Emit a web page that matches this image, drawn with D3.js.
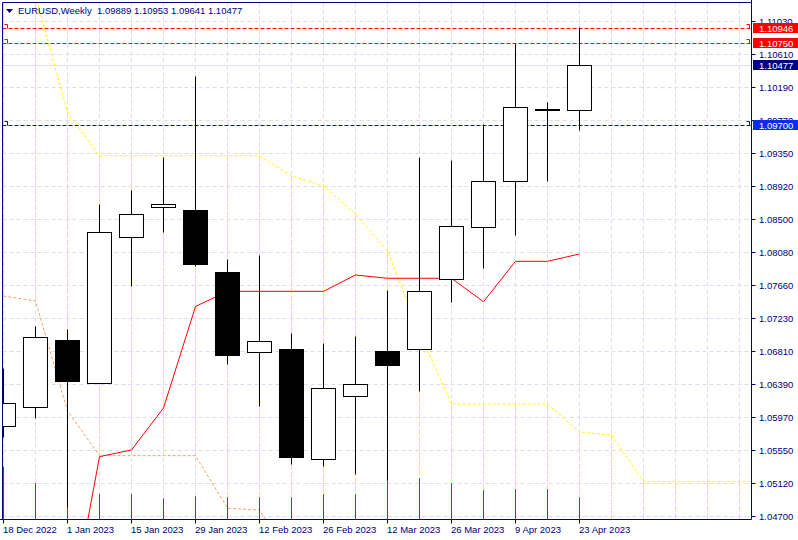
<!DOCTYPE html>
<html><head><meta charset="utf-8">
<script src="https://cdn.jsdelivr.net/npm/d3@7"></script>
<style>
html,body{margin:0;padding:0;background:#fff;overflow:hidden}
svg{display:block}
text{font-family:"Liberation Sans",Arial,sans-serif;font-size:9.5px}
</style>
</head><body>
<svg id="chart" width="798" height="540"></svg>
<script>
// ---------- DATA ----------
const weeks = ["2022-12-18","2022-12-25","2023-01-01","2023-01-08","2023-01-15","2023-01-22","2023-01-29",
  "2023-02-05","2023-02-12","2023-02-19","2023-02-26","2023-03-05","2023-03-12","2023-03-19","2023-03-26",
  "2023-04-02","2023-04-09","2023-04-16","2023-04-23"];
const openP  = [1.05852,1.06099,1.06952,1.06398,1.08270,1.08650,1.08616,1.07822,1.06795,1.06837,1.05429,1.06232,1.06811,1.06833,1.07729,1.08394,1.08983,1.09912,1.09889];
const highP  = [1.06594,1.07131,1.07093,1.08692,1.08872,1.09298,1.10330,1.07985,1.08040,1.07038,1.06910,1.07003,1.07592,1.09294,1.09255,1.09716,1.10750,1.09994,1.10953];
const lowP   = [1.05711,1.05958,1.04819,1.06398,1.07643,1.08334,1.07899,1.06645,1.06111,1.05365,1.05340,1.05237,1.05161,1.06303,1.07442,1.07877,1.08300,1.08985,1.09641];
const closeP = [1.06146,1.06987,1.06431,1.08334,1.08564,1.08692,1.07925,1.06764,1.06935,1.05455,1.06334,1.06389,1.06636,1.07575,1.08407,1.08983,1.09930,1.09889,1.10477];
const volumeK = [52,36,40,25,25,21,23,22,22,22,25,25,40,41,36,29,30,30,22];
const tenkan = [null,null,1.03250,1.05459,1.05545,1.06082,1.07381,1.07575,1.07575,1.07575,1.07575,1.07784,1.07742,1.07742,1.07742,1.07442,1.07959,1.07959,1.08053];
const spanA = [1.11550,1.11354,1.09870,1.09310,1.09310,1.09310,1.09310,1.09310,1.09310,1.09051,1.08927,1.08564,1.08091,1.07042,1.06133,1.06133,1.06133,1.06133,1.05775,1.05736,1.05139,1.05139,1.05139,1.05139,1.05139];
const spanB = [1.07515,1.07451,1.06044,1.05472,1.05472,1.05472,1.05472,1.04799,1.04777,1.04137,1.03900,1.03850,1.03850,1.03800,1.03800,1.03800,1.03750,1.03750,1.03700,1.03700,1.03700,1.03700,1.03700,1.03700,1.03700];
const yTickValues = [1.11030,1.10610,1.10190,1.09770,1.09350,1.08920,1.08500,1.08080,1.07660,1.07230,1.06810,1.06390,1.05970,1.05550,1.05120,1.04700];
const xTickLabels = ["18 Dec 2022","1 Jan 2023","15 Jan 2023","29 Jan 2023","12 Feb 2023","26 Feb 2023","12 Mar 2023","26 Mar 2023","9 Apr 2023","23 Apr 2023"];
const xTickIndex = [0,2,4,6,8,10,12,14,16,18];
const hLineValues = [1.10946,1.10750,1.09700];
const hLineColors = ["#ff0000","#ff0000","#0000dd"];
const hLineBoxColors = ["#ff0000","#ff0000","#0a2cf0"];
const bidPrice = 1.10477;
const symbolTitle = "EURUSD,Weekly";

// ---------- LAYOUT ----------
const L = 2.5, R = 751.5, T = 2.5, B = 519.5;
const navy = "#000080";
const svg = d3.select("#chart");
const x = d3.scaleLinear().domain([0, 23]).range([3.5, 739.5]);
const y = d3.scaleLinear().domain([1.04655, 1.11271]).range([B, T]);
const cy = v => Math.round(y(v)) + 0.5;
const vol = d3.scaleLinear().domain([0, 52]).range([B, 467]);

svg.append("defs").append("clipPath").attr("id","plot")
  .append("rect").attr("x", L+0.5).attr("y", T+0.5).attr("width", R-L-1).attr("height", B-T-1);
const plot = svg.append("g").attr("clip-path","url(#plot)");

// grid
const gridIdx = d3.range(0, 24);
plot.selectAll(".vg").data(gridIdx).join("line")
  .attr("x1", d=>x(d)).attr("x2", d=>x(d)).attr("y1", T).attr("y2", B)
  .attr("stroke","#dcdcf0").attr("stroke-dasharray","4,3");
plot.selectAll(".hg").data(yTickValues).join("line")
  .attr("x1", L).attr("x2", R).attr("y1", d=>cy(d)).attr("y2", d=>cy(d))
  .attr("stroke","#dcdcf0").attr("stroke-dasharray","4,3");

// bid line
plot.append("line").attr("x1",L).attr("x2",R).attr("y1",cy(bidPrice)).attr("y2",cy(bidPrice))
  .attr("stroke","#dedeea");

// cloud hatch
plot.selectAll(".hatch").data(spanA).join("line")
  .attr("x1",(d,i)=>x(i)).attr("x2",(d,i)=>x(i))
  .attr("y1",d=>y(d)).attr("y2",(d,i)=>y(spanB[i]))
  .attr("stroke","#ffff00").attr("stroke-dasharray","6,2");

// span B
plot.append("path").datum(spanB)
  .attr("d", d3.line().x((d,i)=>x(i)).y(d=>y(d)))
  .attr("fill","none").attr("stroke","#f4a460").attr("stroke-dasharray","3,2");
// span A
plot.append("path").datum(spanA)
  .attr("d", d3.line().x((d,i)=>x(i)).y(d=>y(d)))
  .attr("fill","none").attr("stroke","#ffff00").attr("stroke-dasharray","3,2");
// tenkan
plot.append("path").datum(tenkan)
  .attr("d", d3.line().defined(d=>d!==null).x((d,i)=>x(i)).y(d=>y(d)))
  .attr("fill","none").attr("stroke","#ff0000");

// horizontal objects
hLineValues.forEach((v,k)=>{
  const yy = cy(v);
  plot.append("line").attr("x1",L).attr("x2",R).attr("y1",yy).attr("y2",yy)
    .attr("stroke",hLineColors[k]).attr("stroke-dasharray","4,2");
  plot.append("path").attr("d",`M4.5,${yy-4}H7.5V${yy}`).attr("fill","none").attr("stroke",hLineColors[k]);
  plot.append("path").attr("d",`M746.5,${yy-4}H749.5V${yy}`).attr("fill","none").attr("stroke",hLineColors[k]);
});

// volumes
plot.selectAll(".vol").data(volumeK).join("line")
  .attr("x1",(d,i)=>x(i)).attr("x2",(d,i)=>x(i))
  .attr("y1",B).attr("y2",d=>vol(d))
  .attr("stroke","#008000");

// candles
const idx = d3.range(weeks.length);
plot.selectAll(".wick").data(idx).join("line")
  .attr("x1",i=>x(i)).attr("x2",i=>x(i))
  .attr("y1",i=>cy(highP[i])).attr("y2",i=>cy(lowP[i]))
  .attr("stroke","#000");
plot.selectAll(".body").data(idx).join("rect")
  .attr("x",i=>x(i)-12).attr("width",24)
  .attr("y",i=>cy(Math.max(openP[i],closeP[i])))
  .attr("height",i=>cy(Math.min(openP[i],closeP[i]))-cy(Math.max(openP[i],closeP[i])))
  .attr("fill",i=>closeP[i]>=openP[i]?"#fff":"#000")
  .attr("stroke","#000");

// frame
svg.append("line").attr("x1",L).attr("x2",L).attr("y1",T).attr("y2",B).attr("stroke",navy);
svg.append("line").attr("x1",L).attr("x2",R).attr("y1",T).attr("y2",T).attr("stroke",navy);
svg.append("line").attr("x1",R).attr("x2",R).attr("y1",0).attr("y2",B).attr("stroke",navy);
svg.append("line").attr("x1",0).attr("x2",R).attr("y1",B).attr("y2",B).attr("stroke",navy);

// y axis
svg.selectAll(".yt").data(yTickValues).join("line")
  .attr("x1",R).attr("x2",R+4).attr("y1",d=>cy(d)).attr("y2",d=>cy(d)).attr("stroke",navy);
svg.selectAll(".yl").data(yTickValues).join("text")
  .attr("x",759).attr("y",d=>cy(d)+3.5).attr("fill",navy).text(d=>d.toFixed(5));

// price boxes
const boxes = hLineValues.map((v,k)=>({v, c:hLineBoxColors[k]})).concat([{v:bidPrice,c:"#000080"}]);
boxes.forEach(b=>{
  const yy = Math.round(y(b.v));
  svg.append("rect").attr("x",753).attr("y",yy-5).attr("width",45).attr("height",10).attr("fill",b.c);
  svg.append("text").attr("x",759).attr("y",yy+3.5).attr("fill","#fff").text(b.v.toFixed(5));
});

// x axis
svg.selectAll(".xt").data(xTickIndex).join("line")
  .attr("x1",d=>x(d)).attr("x2",d=>x(d)).attr("y1",B).attr("y2",B+4).attr("stroke",navy);
svg.selectAll(".xl").data(xTickIndex).join("text")
  .attr("x",d=>x(d)-0.5).attr("y",532.5).attr("fill",navy).text((d,k)=>xTickLabels[k]);

// title
svg.append("path").attr("d","M6,9H13L9.5,13Z").attr("fill",navy);
svg.append("text").attr("x",18).attr("y",14).attr("fill",navy).text(symbolTitle);
const last = weeks.length-1;
svg.append("text").attr("x",97).attr("y",14).attr("fill",navy)
  .text([openP[last],highP[last],lowP[last],closeP[last]].map(v=>v.toFixed(5)).join(" "));
</script>
</body></html>
